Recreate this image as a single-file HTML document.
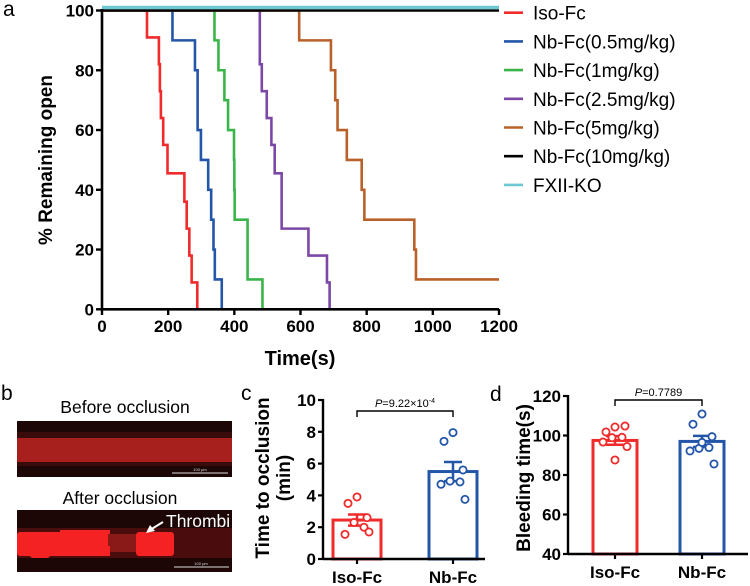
<!DOCTYPE html>
<html><head><meta charset="utf-8">
<style>
html,body{margin:0;padding:0;background:#fff;}
svg{display:block;font-family:"Liberation Sans",Arial,sans-serif;}
.tk{font-weight:bold;font-size:17px;}
</style></head>
<body>
<svg id="fig" width="750" height="586" viewBox="0 0 750 586">
  <text x="3" y="16" font-size="21">a</text>
  <text x="241" y="400" font-size="21">c</text>
  <text x="490" y="401" font-size="21">d</text>
  <text x="1" y="400" font-size="21">b</text>
  <g id="chartA"></g>
  <g id="legendA"></g>
  <g id="panelB">
    <text x="125" y="413" font-size="17.5" text-anchor="middle">Before occlusion</text>
    <rect x="17" y="421" width="215" height="56" fill="#1c0606"/>
    <rect x="17" y="432" width="215" height="6" fill="#3a0b0b"/>
    <rect x="17" y="438" width="215" height="24" fill="#a8201d"/>
    <rect x="17" y="462" width="215" height="4" fill="#3a0b0b"/>
    <line x1="172" y1="473" x2="228" y2="473" stroke="#ddd" stroke-width="1"/>
    <text x="200" y="471" font-size="4" fill="#ddd" text-anchor="middle">100 μm</text>
    <text x="120" y="504" font-size="17.5" text-anchor="middle">After occlusion</text>
    <rect x="17" y="510" width="215" height="62" fill="#1c0606"/>
    <rect x="17" y="528" width="215" height="30" fill="#4a0c0c"/>
    <rect x="17" y="532" width="90" height="24" fill="#f42222" rx="3"/>
    <rect x="60" y="530" width="50" height="20" fill="#f42222"/>
    <rect x="108" y="534" width="30" height="18" fill="#8a1a18"/>
    <rect x="136" y="532" width="38" height="24" fill="#f42222" rx="3"/>
    <rect x="30" y="548" width="20" height="10" fill="#f42222" rx="3"/>
    <rect x="80" y="546" width="30" height="10" fill="#f42222"/>
    <line x1="174" y1="567" x2="229" y2="567" stroke="#ddd" stroke-width="1"/>
    <text x="201" y="565" font-size="4" fill="#ddd" text-anchor="middle">100 μm</text>
    <text x="166" y="527" font-size="17.5" fill="#fff">Thrombi</text>
    <line x1="163" y1="522" x2="150" y2="530" stroke="#fff" stroke-width="2"/>
    <polygon points="146,533 150,525 155,531" fill="#fff"/>
  </g>
  <g id="panelC"></g>
  <g id="panelD"></g>
</svg>
<script>
// ---------- Panel a data ----------
const seriesNames = ["Iso-Fc","Nb-Fc(0.5mg/kg)","Nb-Fc(1mg/kg)","Nb-Fc(2.5mg/kg)","Nb-Fc(5mg/kg)","Nb-Fc(10mg/kg)","FXII-KO"];
const seriesColors = ["#ef2b2b","#2356a8","#3bb54a","#7b48a6","#b9612a","#000000","#6cc9d3"];
const isoTimes = [136,172,175,178,185,198,249,256,264,271,288];
const isoPct   = [91,82,73,64,55,45.5,36,27,18,9,0];
const nb05Times = [213,281,289,299,321,330,337,341,362];
const nb05Pct   = [90,80,60,50,40,30,20,10,0];
const nb1Times = [340,352,370,381,399,400,401,440,485];
const nb1Pct   = [90,80,70,60,50,40,30,10,0];
const nb25Times = [477,483,498,512,522,543,624,680,688];
const nb25Pct   = [82,73,64,55,45.5,27,18,9,0];
const nb5Times = [596,692,705,712,740,785,793,944,949];
const nb5Pct   = [90,80,70,60,50,40,30,20,10];
const nb10Times = [];
const nb10Pct = [];
const koTimes = [];
const koPct = [];
const xTicks = [0,200,400,600,800,1000,1200];
const yTicks = [0,20,40,60,80,100];

// ---------- Panel c data ----------
const cGroups = ["Iso-Fc","Nb-Fc"];
const cMeans = [2.45,5.5];
const cSem = [0.35,0.6];
const cIsoPts = [3.9,3.5,2.6,2.3,2.0,1.55,1.7];
const cNbPts = [7.95,7.4,5.6,4.9,4.85,4.7,3.75];
const cTicks = [0,2,4,6,8,10];
// ---------- Panel d data ----------
const dGroups = ["Iso-Fc","Nb-Fc"];
const dMeans = [97.5,97];
const dSem = [2.2,2.8];
const dIsoPts = [104.3,101.8,104.8,98.9,99.1,96.7,94.4,87.6];
const dNbPts = [110.9,105.7,99.4,93.5,93.9,92.2,85.6,96.5];
const dTicks = [40,60,80,100,120];

const NS="http://www.w3.org/2000/svg";
function mk(tag, attrs, parent){const e=document.createElementNS(NS,tag);for(const k in attrs)e.setAttribute(k,attrs[k]);parent.appendChild(e);return e;}

// ---------- Panel a ----------
const A=document.getElementById('chartA');
const ax=v=>102+v*(499-102)/1200;
const ay=v=>309.3-v*(309.3-10.5)/100;
const allT=[isoTimes,nb05Times,nb1Times,nb25Times,nb5Times,nb10Times,koTimes];
const allP=[isoPct,nb05Pct,nb1Pct,nb25Pct,nb5Pct,nb10Pct,koPct];
allT.forEach((ts,i)=>{
  let d=`M${ax(0)},${ay(100)}`, prev=100;
  ts.forEach((t,j)=>{d+=` H${ax(t)} V${ay(allP[i][j])}`;prev=allP[i][j];});
  d+=` H${ax(prev===0?ts[ts.length-1]:1200)}`;
  let off = i===6 ? -3 : 0;
  const p=mk('path',{d:d,fill:'none',stroke:seriesColors[i],'stroke-width':i===6?3.5:2.6,transform:`translate(0,${off})`},A);
  
  
});
// axes
mk('line',{x1:102,y1:309.3,x2:499,y2:309.3,stroke:'#000','stroke-width':2.6},A);
mk('line',{x1:102,y1:309.3,x2:102,y2:9,stroke:'#000','stroke-width':2.6},A);
xTicks.forEach(v=>{
  mk('line',{x1:ax(v),y1:309,x2:ax(v),y2:315,stroke:'#000','stroke-width':2.4},A);
  const t=mk('text',{x:ax(v),y:332,'text-anchor':'middle',class:'tk'},A);t.textContent=v;
  
  
});
yTicks.forEach(v=>{
  mk('line',{x1:96,y1:ay(v),x2:102,y2:ay(v),stroke:'#000','stroke-width':2.4},A);
  const t=mk('text',{x:94,y:ay(v)+6,'text-anchor':'end',class:'tk'},A);t.textContent=v;
  
  
});
let xt=mk('text',{x:300,y:365,'text-anchor':'middle','font-size':20,'font-weight':'bold'},A);xt.textContent='Time(s)';


let yt=mk('text',{x:0,y:0,'text-anchor':'middle','font-size':19,'font-weight':'bold',transform:'translate(52,160) rotate(-90)'},A);yt.textContent='% Remaining open';


// legend
const L=document.getElementById('legendA');
seriesNames.forEach((n,i)=>{
  const y=12.7+i*28.7;
  const g=mk('g',{},L);
  
  
  mk('line',{x1:504,y1:y,x2:523,y2:y,stroke:seriesColors[i],'stroke-width':2.6},g);
  const t=mk('text',{x:533,y:y+7,'font-size':19},g);t.textContent=n;
});

// ---------- bar panels ----------
function barPanel(G,o){
  const sy=v=>o.y0-(v-o.vmin)*(o.y0-o.y1)/(o.vmax-o.vmin);
  const cols=["#ef2b2b","#2356a8"];
  o.means.forEach((m,i)=>{
    const cx=o.cx[i];
    const r=mk('rect',{x:cx-o.bw/2,y:sy(m),width:o.bw,height:o.y0-sy(m),fill:'none',stroke:cols[i],'stroke-width':3},G);
    
    
    mk('line',{x1:cx,y1:sy(m-o.sem[i]),x2:cx,y2:sy(m+o.sem[i]),stroke:cols[i],'stroke-width':2.5},G);
    mk('line',{x1:cx-9,y1:sy(m+o.sem[i]),x2:cx+9,y2:sy(m+o.sem[i]),stroke:cols[i],'stroke-width':2.5},G);
    mk('line',{x1:cx-9,y1:sy(m-o.sem[i]),x2:cx+9,y2:sy(m-o.sem[i]),stroke:cols[i],'stroke-width':2.5},G);
    o.pts[i].forEach((v,j)=>{
      const dx=[0,-9,10,-3,7,-12,12,0][j%8];
      const c=mk('circle',{cx:cx+dx,cy:sy(v),r:3.6,fill:'#fff',stroke:cols[i],'stroke-width':1.8},G);
      
      
    });
    mk('line',{x1:cx,y1:o.y0,x2:cx,y2:o.y0+5,stroke:'#000','stroke-width':2.2},G);
    const t=mk('text',{x:cx,y:o.y0+24,'text-anchor':'middle','font-size':17,'font-weight':'bold'},G);t.textContent=o.groups[i];
    
    
  });
  mk('line',{x1:o.ax,y1:o.y0,x2:o.xe,y2:o.y0,stroke:'#000','stroke-width':2.4},G);
  mk('line',{x1:o.ax,y1:o.y0+1,x2:o.ax,y2:o.y1-1,stroke:'#000','stroke-width':2.4},G);
  o.ticks.forEach(v=>{
    mk('line',{x1:o.ax-5,y1:sy(v),x2:o.ax,y2:sy(v),stroke:'#000','stroke-width':2.2},G);
    const t=mk('text',{x:o.ax-7,y:sy(v)+6,'text-anchor':'end','font-size':17,'font-weight':'bold'},G);t.textContent=v;
    
    
  });
  const by=o.bry;
  mk('path',{d:`M${o.cx[0]},${by+6} V${by} H${o.cx[1]} V${by+6}`,fill:'none',stroke:'#000','stroke-width':1.4},G);
  const p=mk('text',{x:(o.cx[0]+o.cx[1])/2,y:by-4,'text-anchor':'middle','font-size':11},G);
  p.innerHTML=o.ptxt;
  
  
  o.titles.forEach((tt,k)=>{
    const t=mk('text',{x:0,y:0,'text-anchor':'middle','font-size':19,'font-weight':'bold',transform:`translate(${o.tx[k]},${o.ty}) rotate(-90)`},G);t.textContent=tt;
    
    
  });
}
barPanel(document.getElementById('panelC'),{y0:559,y1:400,vmin:0,vmax:10,ax:323,xe:485,cx:[357,453],bw:48,
  means:cMeans,sem:cSem,pts:[cIsoPts,cNbPts],ticks:cTicks,groups:cGroups,bry:411,
  ptxt:'<tspan font-style="italic">P</tspan>=9.22×10<tspan dy="-4" font-size="7">-4</tspan>',
  titles:['Time to occlusion','(min)'],tx:[269,290],ty:478});
barPanel(document.getElementById('panelD'),{y0:554,y1:396,vmin:40,vmax:120,ax:568,xe:748,cx:[615,702],bw:44,
  means:dMeans,sem:dSem,pts:[dIsoPts,dNbPts],ticks:dTicks,groups:dGroups,bry:400,
  ptxt:'<tspan font-style="italic">P</tspan>=0.7789',
  titles:['Bleeding time(s)'],tx:[530],ty:478});
</script>
</body></html>
